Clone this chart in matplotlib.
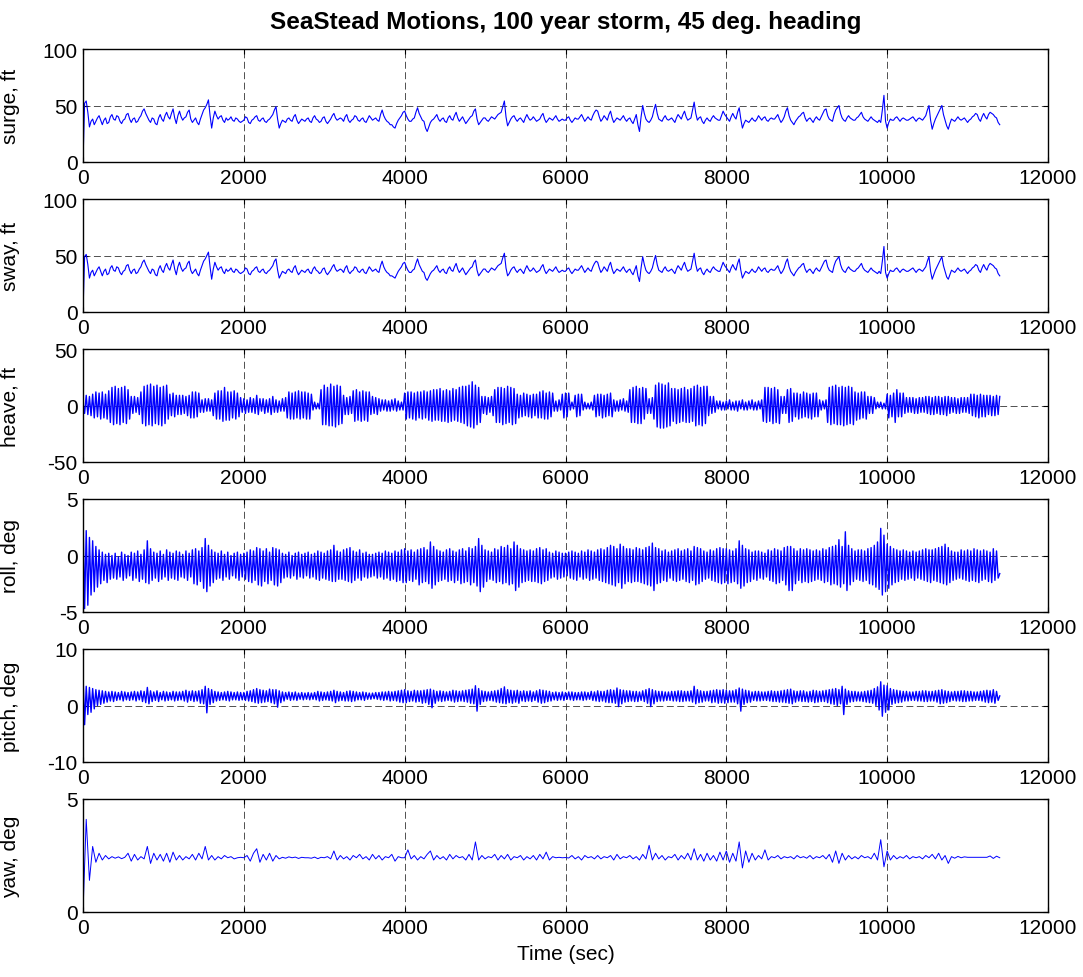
import numpy as np
import matplotlib
matplotlib.use("Agg")
import matplotlib.pyplot as plt

plt.rcParams['font.family'] = ['Liberation Sans', 'DejaVu Sans']
plt.rcParams['axes.unicode_minus'] = False
plt.rcParams['lines.scale_dashes'] = False

# readings every 20 s (surge, sway, heave, roll, pitch) and every 40 s (yaw)
STEP_FINE = 20
STEP_YAW = 40

surge = [
    0, 52, 54, 44, 31, 36, 38, 33, 36, 39, 41, 37, 33, 37, 39, 34, 35, 40, 42, 38,
    37, 41, 40, 36, 34, 37, 38, 42, 43, 38, 35, 38, 39, 35, 36, 39, 41, 45, 47, 43,
    40, 37, 35, 39, 38, 34, 33, 39, 42, 38, 36, 41, 44, 40, 38, 43, 47, 39, 34, 41,
    45, 40, 37, 39, 40, 44, 46, 38, 35, 37, 39, 35, 33, 38, 42, 46, 48, 51, 55, 41,
    30, 39, 45, 41, 38, 40, 41, 37, 35, 39, 37, 38, 40, 37, 36, 39, 38, 36, 35, 36,
    37, 40, 39, 35, 34, 37, 38, 40, 41, 37, 36, 38, 39, 36, 35, 37, 38, 40, 42, 46,
    49, 38, 30, 34, 37, 36, 35, 38, 39, 37, 36, 40, 42, 37, 34, 36, 38, 37, 36, 38,
    39, 36, 35, 39, 41, 38, 37, 35, 36, 39, 40, 36, 34, 36, 38, 41, 43, 39, 37, 38,
    39, 38, 36, 40, 42, 37, 35, 37, 38, 41, 40, 37, 36, 38, 39, 36, 35, 38, 41, 39,
    37, 38, 39, 37, 36, 42, 46, 41, 38, 36, 35, 33, 33, 31, 30, 34, 37, 39, 41, 44,
    45, 41, 38, 36, 36, 38, 39, 44, 48, 43, 40, 37, 36, 30, 27, 31, 35, 37, 38, 40,
    42, 38, 36, 38, 39, 36, 35, 39, 41, 38, 37, 41, 44, 39, 36, 38, 40, 37, 34, 36,
    38, 40, 41, 45, 47, 38, 33, 35, 37, 39, 39, 37, 36, 38, 40, 39, 38, 40, 42, 43,
    44, 49, 54, 40, 32, 35, 38, 40, 41, 38, 36, 38, 39, 37, 35, 39, 42, 39, 37, 38,
    40, 38, 36, 37, 38, 41, 43, 38, 35, 37, 39, 38, 37, 39, 41, 38, 36, 37, 38, 37,
    37, 39, 40, 37, 35, 37, 39, 38, 38, 40, 42, 39, 36, 38, 40, 38, 37, 41, 44, 46,
    45, 40, 36, 38, 41, 39, 37, 42, 45, 39, 35, 37, 39, 38, 37, 39, 41, 38, 36, 38,
    39, 36, 34, 38, 42, 33, 27, 40, 50, 43, 38, 36, 35, 37, 40, 46, 51, 43, 38, 37,
    36, 39, 41, 38, 37, 38, 39, 37, 35, 39, 42, 40, 38, 42, 45, 40, 37, 38, 39, 46,
    53, 43, 37, 39, 40, 36, 34, 37, 39, 37, 36, 39, 41, 39, 38, 37, 37, 41, 45, 42,
    40, 38, 36, 40, 43, 40, 38, 44, 48, 38, 30, 34, 37, 36, 35, 37, 39, 37, 36, 38,
    41, 39, 37, 39, 40, 37, 36, 38, 39, 38, 38, 40, 42, 38, 35, 37, 40, 45, 48, 41,
    37, 35, 33, 36, 38, 40, 41, 43, 44, 39, 36, 38, 39, 37, 35, 38, 40, 38, 37, 40,
    43, 46, 47, 41, 38, 37, 36, 42, 46, 48, 50, 43, 39, 37, 36, 39, 41, 39, 38, 37,
    37, 39, 40, 42, 44, 40, 38, 37, 36, 38, 40, 38, 37, 36, 35, 37, 35, 46, 59, 36,
    30, 35, 38, 37, 37, 39, 40, 38, 36, 38, 39, 38, 37, 37, 38, 39, 40, 38, 36, 38,
    39, 38, 37, 39, 41, 46, 50, 37, 29, 34, 38, 41, 44, 47, 50, 42, 37, 32, 29, 34,
    38, 37, 36, 38, 40, 38, 37, 38, 39, 37, 35, 37, 38, 40, 41, 43, 42, 38, 36, 40,
    43, 40, 38, 42, 44, 43, 42, 40, 39, 35, 33,
]

sway = [
    0, 49, 51, 42, 30, 35, 37, 32, 35, 38, 40, 36, 32, 36, 38, 33, 34, 39, 41, 37,
    36, 40, 39, 35, 33, 36, 37, 41, 42, 37, 34, 37, 38, 34, 35, 38, 40, 44, 46, 42,
    39, 36, 34, 38, 37, 33, 32, 38, 41, 37, 35, 40, 43, 39, 37, 42, 46, 38, 33, 40,
    44, 39, 36, 38, 39, 43, 45, 37, 34, 36, 38, 34, 32, 37, 41, 45, 47, 50, 53, 40,
    29, 38, 44, 40, 37, 39, 40, 36, 34, 38, 36, 37, 39, 36, 35, 38, 37, 35, 34, 35,
    36, 39, 38, 34, 33, 36, 37, 39, 40, 36, 35, 37, 38, 35, 34, 36, 37, 39, 41, 45,
    47, 37, 30, 33, 36, 35, 34, 37, 38, 36, 35, 39, 41, 36, 33, 35, 37, 36, 35, 37,
    38, 35, 34, 38, 40, 37, 36, 34, 35, 38, 39, 35, 33, 35, 37, 40, 42, 38, 36, 37,
    38, 37, 35, 39, 41, 36, 34, 36, 37, 40, 39, 36, 35, 37, 38, 35, 34, 37, 40, 38,
    36, 37, 38, 36, 35, 41, 45, 40, 37, 35, 34, 32, 32, 31, 30, 33, 36, 38, 40, 43,
    44, 40, 37, 35, 35, 37, 38, 43, 47, 42, 39, 36, 35, 30, 28, 31, 34, 36, 37, 39,
    41, 37, 35, 37, 38, 35, 34, 38, 40, 37, 36, 40, 43, 38, 35, 37, 39, 36, 33, 35,
    37, 39, 40, 44, 46, 37, 32, 34, 36, 38, 38, 36, 35, 37, 39, 38, 37, 39, 41, 42,
    43, 48, 52, 39, 32, 34, 37, 39, 40, 37, 35, 37, 38, 36, 34, 38, 41, 38, 36, 37,
    39, 37, 35, 36, 37, 40, 42, 37, 34, 36, 38, 37, 36, 38, 40, 37, 35, 36, 37, 36,
    36, 38, 39, 36, 34, 36, 38, 37, 37, 39, 41, 38, 35, 37, 39, 37, 36, 40, 43, 45,
    44, 39, 35, 37, 40, 38, 36, 41, 44, 38, 34, 36, 38, 37, 36, 38, 40, 37, 35, 37,
    38, 35, 33, 37, 41, 32, 27, 39, 49, 42, 37, 35, 34, 36, 39, 45, 50, 42, 37, 36,
    35, 38, 40, 37, 36, 37, 38, 36, 34, 38, 41, 39, 37, 41, 44, 39, 36, 37, 38, 45,
    52, 42, 36, 38, 39, 35, 33, 36, 38, 36, 35, 38, 40, 38, 37, 36, 36, 40, 44, 41,
    39, 37, 35, 39, 42, 39, 37, 43, 47, 37, 30, 33, 36, 35, 34, 36, 38, 36, 35, 37,
    40, 38, 36, 38, 39, 36, 35, 37, 38, 37, 37, 39, 41, 37, 34, 36, 39, 44, 47, 40,
    36, 34, 32, 35, 37, 39, 40, 42, 43, 38, 35, 37, 38, 36, 34, 37, 39, 37, 36, 39,
    42, 45, 46, 40, 37, 36, 35, 41, 45, 47, 49, 42, 38, 36, 35, 38, 40, 38, 37, 36,
    36, 38, 39, 41, 43, 39, 37, 36, 35, 37, 39, 37, 36, 35, 34, 36, 34, 45, 58, 35,
    30, 34, 37, 36, 36, 38, 39, 37, 35, 37, 38, 37, 36, 36, 37, 38, 39, 37, 35, 37,
    38, 37, 36, 38, 40, 45, 49, 36, 29, 33, 37, 40, 43, 46, 49, 41, 36, 31, 29, 33,
    37, 36, 35, 37, 39, 37, 36, 37, 38, 36, 34, 36, 37, 39, 40, 42, 41, 37, 35, 39,
    42, 39, 37, 41, 43, 42, 41, 39, 38, 34, 32,
]

heave = [
    2, -7, 9, -8, 8, -9, 10, -11, 12, -10, 11, -12, 12, -11, 10, -12, 13, -15, 16, -17,
    17, -16, 15, -17, 16, -15, 17, -16, 14, -12, 8, -7, 8, -6, 7, -8, 12, -16, 17, -18,
    18, -17, 19, -18, 17, -16, 18, -17, 16, -18, 17, -16, 18, -12, 10, -9, 11, -10, 9, -8,
    9, -8, 9, -7, 8, -9, 9, -11, 12, -11, 12, -10, 11, -6, 5, -6, 6, -5, 6, -5,
    5, -9, 11, -12, 13, -12, 13, -14, 16, -13, 12, -13, 12, -11, 13, -12, 11, -10, 7, -6,
    6, -7, 5, -6, 7, -6, 6, -7, 9, -8, 6, -5, 6, -7, 5, -6, 6, -8, 8, -6,
    5, -6, 4, -5, 6, -5, 7, -11, 12, -12, 11, -12, 12, -11, 13, -12, 12, -11, 12, -12,
    11, -12, 10, -4, 3, -3, 2, -3, 14, -17, 18, -17, 16, -18, 19, -18, 17, -19, 18, -17,
    17, -16, 9, -8, 7, -8, 8, -7, 13, -14, 14, -13, 12, -14, 13, -13, 12, -14, 12, -8,
    8, -7, 7, -8, 6, -5, 5, -4, 5, -5, 4, -5, 5, -4, 6, -5, 4, -4, 3, -4,
    11, -12, 12, -11, 12, -12, 11, -13, 12, -11, 12, -12, 13, -11, 12, -13, 13, -14, 14, -13,
    14, -13, 15, -14, 13, -14, 14, -15, 13, -14, 15, -13, 14, -14, 16, -15, 17, -16, 17, -18,
    18, -19, 21, -20, 18, -17, 16, -15, 8, -7, 8, -8, 7, -6, 8, -9, 14, -15, 16, -15,
    16, -17, 15, -16, 17, -15, 16, -17, 15, -16, 10, -11, 9, -10, 11, -9, 10, -10, 9, -11,
    10, -9, 10, -11, 12, -11, 13, -12, 11, -12, 12, -10, 11, -5, 4, -5, 5, -4, 10, -11,
    11, -10, 11, -4, 3, -3, 9, -10, 10, -9, 10, -4, 3, -3, 2, -3, 3, -4, 9, -10,
    10, -9, 10, -11, 9, -10, 10, -9, 11, -10, 5, -5, 4, -5, 5, -4, 6, -5, 4, -6,
    14, -15, 16, -15, 17, -16, 15, -16, 16, -12, 15, -7, 6, -7, 7, -12, 18, -19, 20, -20,
    19, -20, 18, -19, 20, -18, 15, -14, 15, -16, 14, -15, 15, -14, 16, -15, 14, -15, 15, -14,
    17, -18, 18, -17, 16, -18, 17, -16, 17, -9, 8, -7, 8, -6, 4, -3, 4, -4, 3, -4,
    4, -3, 5, -4, 3, -4, 4, -5, 4, -3, 5, -4, 3, -4, 4, -3, 5, -4, 3, -4,
    4, -3, 5, -14, 16, -15, 16, -14, 15, -16, 16, -15, 14, -16, 8, -7, 8, -7, 14, -15,
    15, -14, 11, -10, 11, -12, 10, -11, 12, -10, 11, -11, 10, -12, 11, -10, 11, -10, 5, -4,
    4, -3, 5, -15, 16, -17, 17, -16, 18, -17, 16, -17, 17, -18, 16, -17, 17, -16, 16, -17,
    12, -13, 11, -12, 12, -11, 12, -12, 8, -7, 8, -7, 7, -3, 3, -2, 3, -3, 2, -3,
    10, -11, 9, -10, 11, -15, 14, -10, 11, -10, 11, -7, 7, -6, 7, -6, 7, -7, 6, -7,
    7, -6, 7, -6, 8, -7, 8, -8, 7, -8, 8, -7, 8, -8, 7, -8, 8, -9, 8, -7,
    7, -6, 7, -7, 6, -7, 7, -6, 7, -6, 7, -7, 10, -9, 10, -10, 9, -11, 10, -10,
    9, -10, 9, -8, 9, -9, 8, -9, 9, -8, 8,
]

roll = [
    3.3, -4.7, 2.2, -4.4, 1.6, -3.5, 1.3, -3.2, 0.8, -2.8, 0.5, -2.5, 0.3, -2.2, 0.1, -2.4, 0.2, -2.1, 0.0, -2.0,
    0.2, -2.1, -0.1, -1.9, 0.3, -2.2, 0.1, -2.0, 0.0, -1.8, 0.3, -2.2, 0.2, -2.0, 0.4, -2.3, 0.1, -2.1, 0.5, -2.4,
    1.3, -2.5, 0.6, -2.2, 0.3, -2.0, 0.2, -2.3, 0.4, -2.1, 0.1, -1.9, 0.5, -2.2, 0.3, -2.0, 0.2, -2.1, 0.4, -2.2,
    0.3, -1.9, 0.1, -2.0, 0.4, -2.2, 0.2, -1.9, 0.5, -2.5, 0.6, -2.6, 0.4, -2.3, 0.7, -2.9, 1.5, -3.2, 0.9, -2.7,
    0.5, -2.4, 0.3, -2.1, 0.2, -2.0, 0.4, -2.2, 0.1, -1.9, 0.3, -2.1, 0.0, -1.8, 0.2, -2.0, 0.3, -2.2, 0.1, -1.9,
    0.2, -2.1, 0.3, -2.3, 0.5, -2.4, 0.4, -2.2, 0.7, -2.6, 0.6, -2.7, 0.4, -2.3, 0.6, -2.5, 0.3, -2.2, 0.7, -2.6,
    0.6, -2.7, 0.5, -2.4, 0.2, -2.0, 0.1, -1.9, 0.3, -2.0, 0.0, -1.8, 0.2, -2.1, 0.3, -1.9, 0.1, -2.0, 0.2, -1.8,
    0.3, -2.0, 0.1, -1.9, 0.2, -2.1, 0.4, -2.2, 0.3, -2.0, 0.2, -2.1, 0.4, -2.2, 0.5, -2.3, 0.9, -2.3, 0.4, -2.1,
    0.3, -2.1, 0.5, -2.2, 0.6, -2.3, 0.7, -2.4, 0.4, -2.2, 0.3, -2.0, 0.5, -2.2, 0.2, -1.9, 0.3, -2.0, 0.1, -1.9,
    0.1, -1.8, 0.2, -2.0, 0.3, -1.9, 0.2, -2.1, 0.4, -2.0, 0.3, -2.2, 0.2, -2.1, 0.4, -2.3, 0.3, -2.2, 0.5, -2.4,
    0.6, -2.4, 0.4, -2.2, 0.5, -2.3, 0.3, -2.1, 0.5, -2.6, 0.6, -2.4, 0.7, -2.3, 0.5, -2.5, 1.2, -2.9, 0.8, -2.6,
    0.5, -2.3, 0.4, -2.2, 0.3, -2.1, 0.5, -2.3, 0.6, -2.2, 0.4, -2.4, 0.3, -2.2, 0.5, -2.5, 0.6, -2.4, 0.4, -2.3,
    0.7, -2.6, 0.6, -2.4, 0.8, -2.7, 1.5, -3.2, 0.9, -2.8, 0.5, -2.3, 0.4, -2.1, 0.3, -2.2, 0.6, -2.4, 0.5, -2.3,
    0.8, -2.5, 0.7, -2.4, 0.9, -2.6, 0.6, -2.5, 1.2, -3.1, 0.9, -2.8, 0.6, -2.4, 0.5, -2.3, 0.4, -2.2, 0.5, -2.3,
    0.4, -2.3, 0.6, -2.4, 0.7, -2.5, 0.5, -2.3, 0.6, -2.2, 0.3, -2.0, 0.2, -1.9, 0.4, -2.1, 0.3, -2.0, 0.2, -1.9,
    0.2, -1.8, 0.3, -2.0, 0.4, -2.1, 0.3, -2.2, 0.2, -1.9, 0.4, -2.1, 0.3, -2.0, 0.5, -2.2, 0.4, -2.1, 0.3, -2.0,
    0.5, -2.2, 0.6, -2.3, 0.5, -2.4, 0.7, -2.5, 0.9, -2.6, 0.8, -2.7, 0.6, -2.4, 1.0, -2.9, 0.8, -2.5, 0.6, -2.3,
    0.6, -2.4, 0.5, -2.3, 0.7, -2.3, 0.6, -2.4, 0.5, -2.5, 0.7, -2.6, 0.8, -2.7, 1.1, -3.1, 0.7, -2.5, 0.6, -2.4,
    0.4, -2.2, 0.5, -2.3, 0.3, -2.0, 0.4, -2.2, 0.5, -2.3, 0.6, -2.2, 0.4, -2.1, 0.5, -2.3, 0.6, -2.4, 0.4, -2.2,
    0.8, -2.6, 0.7, -2.5, 0.6, -2.3, 0.4, -2.1, 0.3, -2.0, 0.5, -2.2, 0.4, -2.3, 0.6, -2.4, 0.7, -2.5, 0.6, -2.4,
    0.6, -2.5, 0.5, -2.4, 0.4, -2.3, 0.6, -2.5, 1.3, -2.9, 0.9, -2.7, 0.6, -2.4, 0.5, -2.3, 0.3, -2.1, 0.4, -2.2,
    0.4, -2.0, 0.3, -2.1, 0.2, -1.9, 0.5, -2.2, 0.4, -2.3, 0.6, -2.5, 0.5, -2.4, 0.4, -2.2, 0.7, -2.6, 0.8, -3.1,
    0.8, -3.1, 0.6, -2.5, 0.4, -2.2, 0.6, -2.4, 0.5, -2.3, 0.6, -2.4, 0.5, -2.3, 0.4, -2.2, 0.5, -2.1, 0.4, -2.2,
    0.6, -2.4, 0.5, -2.3, 0.7, -2.6, 0.8, -2.5, 0.9, -2.6, 1.4, -2.8, 0.8, -2.5, 2.1, -3.1, 0.9, -2.6, 0.6, -2.3,
    0.4, -2.1, 0.5, -2.2, 0.5, -2.3, 0.4, -2.2, 0.6, -2.5, 0.7, -2.6, 0.9, -2.8, 1.2, -3.0, 2.4, -3.5, 1.8, -3.2,
    1.0, -2.9, 0.8, -2.6, 0.6, -2.4, 0.5, -2.3, 0.4, -2.1, 0.5, -2.2, 0.4, -2.1, 0.3, -2.0, 0.4, -2.2, 0.3, -2.0,
    0.4, -2.1, 0.5, -2.2, 0.6, -2.3, 0.5, -2.4, 0.5, -2.2, 0.6, -2.3, 0.7, -2.4, 0.8, -2.5, 1.0, -2.6, 0.7, -2.4,
    0.4, -2.2, 0.3, -2.1, 0.3, -2.0, 0.5, -2.1, 0.4, -2.2, 0.5, -2.3, 0.4, -2.2, 0.6, -2.3, 0.5, -2.4, 0.4, -2.2,
    0.5, -2.1, 0.4, -2.3, 0.3, -2.4, 0.6, -2.2, 0.4, -2.0, -1.6,
]

pitch = [
    5.2, -3.4, 3.4, -1.6, 3.2, -1.2, 3.0, -0.6, 2.8, 0.0, 2.7, 0.2, 2.6, 0.4, 2.5, 0.6, 2.4, 0.8, 2.5, 0.7,
    2.4, 0.9, 2.3, 1.0, 2.5, 0.8, 2.4, 1.0, 2.3, 0.9, 2.4, 1.0, 2.5, 0.8, 2.4, 1.0, 2.6, 0.7, 2.5, 0.5,
    3.2, 0.3, 2.6, 0.7, 2.4, 0.9, 2.6, 0.7, 2.3, 1.0, 2.5, 0.8, 2.4, 0.9, 2.3, 1.0, 2.5, 0.8, 2.4, 0.9,
    2.4, 1.0, 2.5, 0.8, 2.7, 0.6, 2.5, 0.9, 2.6, 0.7, 2.5, 0.8, 2.6, 0.4, 2.8, 0.3, 3.4, -1.3, 3.0, 0.2,
    2.8, 0.5, 2.5, 0.8, 2.4, 0.9, 2.3, 1.0, 2.4, 0.9, 2.5, 0.8, 2.4, 1.0, 2.3, 1.0, 2.4, 0.9, 2.3, 1.0,
    2.3, 0.9, 2.5, 0.8, 2.6, 0.7, 2.8, 0.5, 3.0, 0.4, 2.8, 0.5, 2.7, 0.6, 2.6, 0.7, 2.9, 0.5, 2.8, 0.3,
    2.8, -0.3, 2.6, 0.5, 2.4, 0.8, 2.3, 1.1, 2.4, 0.9, 2.3, 1.0, 2.4, 0.9, 2.2, 1.1, 2.3, 1.0, 2.2, 1.1,
    2.3, 1.0, 2.2, 1.1, 2.3, 1.0, 2.5, 0.8, 2.4, 0.9, 2.3, 1.0, 2.4, 0.9, 2.5, 0.8, 2.7, 0.5, 2.5, 0.8,
    2.4, 0.9, 2.3, 0.8, 2.5, 0.8, 2.6, 0.7, 2.5, 0.8, 2.4, 1.0, 2.3, 1.0, 2.4, 0.9, 2.3, 1.1, 2.2, 1.1,
    2.2, 1.2, 2.3, 1.1, 2.3, 1.0, 2.4, 0.9, 2.4, 1.0, 2.5, 0.8, 2.4, 0.9, 2.5, 0.8, 2.6, 0.6, 2.7, 0.5,
    2.8, 0.5, 2.6, 0.7, 2.5, 0.8, 2.7, 0.6, 2.6, 0.7, 2.6, 0.4, 2.7, 0.5, 2.8, 0.2, 2.9, -0.4, 2.7, 0.4,
    2.5, 0.8, 2.6, 0.7, 2.5, 0.8, 2.4, 0.9, 2.5, 0.8, 2.7, 0.6, 2.6, 0.7, 2.5, 0.8, 2.6, 0.7, 2.7, 0.6,
    2.8, 0.4, 2.9, 0.3, 3.5, -1.0, 3.0, 0.2, 2.6, 0.7, 2.5, 0.8, 2.4, 0.9, 2.5, 0.8, 2.6, 0.6, 2.7, 0.5,
    3.0, 0.4, 3.3, 0.3, 2.8, 0.5, 2.7, 0.4, 2.6, 0.6, 2.7, 0.4, 2.5, 0.8, 2.6, 0.7, 2.5, 0.8, 2.6, 0.7,
    2.4, 0.9, 2.6, 0.6, 2.8, 0.4, 2.7, 0.5, 2.6, 0.7, 2.5, 0.8, 2.3, 1.0, 2.4, 0.9, 2.3, 1.0, 2.4, 0.9,
    2.3, 1.1, 2.4, 1.0, 2.4, 0.9, 2.3, 1.0, 2.3, 1.0, 2.4, 0.9, 2.4, 1.0, 2.3, 1.1, 2.5, 0.9, 2.4, 0.8,
    2.6, 0.7, 2.5, 0.8, 2.5, 0.6, 2.7, 0.5, 2.8, 0.5, 2.7, 0.4, 3.1, -0.2, 2.8, 0.3, 2.7, 0.6, 2.6, 0.7,
    2.6, 0.8, 2.5, 0.7, 2.5, 0.7, 2.4, 0.9, 2.6, 0.7, 2.8, 0.4, 3.0, -0.2, 2.8, 0.3, 2.6, 0.7, 2.5, 0.8,
    2.5, 0.8, 2.4, 0.9, 2.4, 0.9, 2.5, 0.8, 2.5, 0.8, 2.6, 0.7, 2.6, 0.7, 2.5, 0.8, 2.5, 0.8, 2.6, 0.6,
    3.4, 0.3, 2.8, 0.5, 2.6, 0.6, 2.5, 0.8, 2.5, 0.8, 2.6, 0.5, 2.7, 0.6, 2.8, 0.4, 2.7, 0.5, 2.8, 0.4,
    2.7, 0.5, 2.6, 0.6, 2.6, 0.6, 2.8, 0.3, 3.1, -1.0, 2.9, 0.2, 2.7, 0.5, 2.6, 0.6, 2.4, 0.9, 2.5, 0.8,
    2.5, 0.8, 2.4, 0.9, 2.4, 0.9, 2.5, 0.8, 2.6, 0.7, 2.5, 0.7, 2.5, 0.6, 2.6, 0.6, 2.7, 0.5, 2.8, 0.4,
    2.9, 0.3, 2.6, 0.6, 2.5, 0.8, 2.6, 0.7, 2.6, 0.7, 2.4, 0.6, 2.5, 0.7, 2.7, 0.5, 2.6, 0.6, 2.5, 0.7,
    2.6, 0.7, 2.7, 0.5, 2.8, 0.3, 2.9, 0.2, 3.0, 0.0, 2.8, 0.3, 3.4, -1.6, 2.9, 0.2, 2.6, 0.6, 2.5, 0.7,
    2.5, 0.8, 2.4, 0.8, 2.4, 0.7, 2.5, 0.6, 2.6, 0.5, 2.7, 0.4, 3.0, 0.0, 3.3, -0.8, 4.2, -1.9, 3.6, -1.2,
    3.5, -0.8, 3.0, 0.2, 2.8, 0.4, 2.7, 0.5, 2.6, 0.6, 2.5, 0.8, 2.5, 0.8, 2.4, 0.9, 2.4, 0.9, 2.5, 0.8,
    2.5, 0.8, 2.6, 0.7, 2.6, 0.7, 2.5, 0.8, 2.5, 0.8, 2.6, 0.6, 2.7, 0.3, 2.8, 0.4, 2.6, 0.5, 2.5, 0.7,
    2.4, 0.9, 2.5, 0.8, 2.5, 0.8, 2.6, 0.7, 2.6, 0.7, 2.5, 0.8, 2.5, 0.8, 2.4, 0.9, 2.4, 0.9, 2.5, 0.8,
    2.6, 0.6, 2.7, 0.5, 2.6, 0.6, 2.8, 0.4, 2.5, 0.9, 1.7,
]

yaw = [
    0.0, 4.1, 1.4, 2.9, 2.2, 2.6, 2.3, 2.5, 2.35, 2.45,
    2.38, 2.44, 2.36, 2.42, 2.6, 2.25, 2.55, 2.3, 2.45, 2.35,
    2.9, 2.15, 2.6, 2.3, 2.55, 2.25, 2.6, 2.2, 2.65, 2.3,
    2.5, 2.3, 2.45, 2.35, 2.55, 2.3, 2.6, 2.35, 2.9, 2.3,
    2.5, 2.3, 2.45, 2.35, 2.5, 2.4, 2.45, 2.35, 2.4, 2.42,
    2.4, 2.5, 2.25, 2.6, 2.8, 2.2, 2.55, 2.3, 2.6, 2.25,
    2.5, 2.35, 2.42, 2.38, 2.44, 2.4, 2.43, 2.37, 2.42, 2.4,
    2.4, 2.38, 2.43, 2.36, 2.42, 2.4, 2.45, 2.35, 2.7, 2.3,
    2.5, 2.35, 2.45, 2.3, 2.5, 2.4, 2.55, 2.35, 2.45, 2.3,
    2.55, 2.35, 2.5, 2.3, 2.45, 2.4, 2.55, 2.25, 2.45, 2.4,
    2.4, 2.75, 2.35, 2.5, 2.3, 2.45, 2.35, 2.55, 2.7, 2.3,
    2.5, 2.35, 2.45, 2.3, 2.55, 2.35, 2.5, 2.4, 2.45, 2.3,
    2.55, 2.3, 3.1, 2.3, 2.5, 2.35, 2.45, 2.4, 2.55, 2.3,
    2.5, 2.35, 2.55, 2.3, 2.45, 2.4, 2.5, 2.3, 2.45, 2.35,
    2.5, 2.3, 2.55, 2.35, 2.65, 2.3, 2.45, 2.4, 2.42, 2.4,
    2.41, 2.39, 2.5, 2.35, 2.45, 2.3, 2.5, 2.4, 2.45, 2.35,
    2.5, 2.35, 2.45, 2.4, 2.5, 2.3, 2.55, 2.35, 2.45, 2.4,
    2.5, 2.35, 2.45, 2.3, 2.55, 2.35, 2.95, 2.3, 2.6, 2.35,
    2.5, 2.3, 2.45, 2.4, 2.55, 2.3, 2.5, 2.35, 2.6, 2.3,
    2.8, 2.3, 2.55, 2.25, 2.6, 2.3, 2.5, 2.25, 2.65, 2.3,
    2.7, 2.2, 2.6, 2.25, 3.1, 1.95, 2.7, 2.2, 2.6, 2.3,
    2.5, 2.35, 2.75, 2.3, 2.45, 2.4, 2.5, 2.35, 2.45, 2.4,
    2.45, 2.35, 2.5, 2.4, 2.45, 2.38, 2.5, 2.35, 2.45, 2.4,
    2.5, 2.35, 2.55, 2.2, 2.7, 2.15, 2.6, 2.3, 2.5, 2.35,
    2.45, 2.35, 2.5, 2.4, 2.45, 2.35, 2.6, 2.3, 3.2, 2.0,
    2.7, 2.3, 2.5, 2.35, 2.45, 2.38, 2.5, 2.35, 2.45, 2.4,
    2.45, 2.35, 2.5, 2.4, 2.55, 2.35, 2.6, 2.3, 2.5, 2.15,
    2.45, 2.38, 2.46, 2.4, 2.44, 2.42, 2.42, 2.42, 2.42, 2.42,
    2.42, 2.42, 2.48, 2.37, 2.47, 2.4,
]

series = [surge, sway, heave, roll, pitch, yaw]
steps = [STEP_FINE, STEP_FINE, STEP_FINE, STEP_FINE, STEP_FINE, STEP_YAW]
widths = [0.8, 0.8, 1.0, 1.0, 1.0, 0.7]
ylabels = ['surge, ft', 'sway, ft', 'heave, ft', 'roll, deg', 'pitch, deg', 'yaw, deg']
ylims = [(0, 100), (0, 100), (-50, 50), (-5, 5), (-10, 10), (0, 5)]
yticks = [[0, 50, 100], [0, 50, 100], [-50, 0, 50], [-5, 0, 5], [-10, 0, 10], [0, 5]]
xticks = [0, 2000, 4000, 6000, 8000, 10000, 12000]
title = 'SeaStead Motions, 100 year storm, 45 deg. heading'
xlabel = 'Time (sec)'

W, H = 1083, 978
fig = plt.figure(figsize=(W / 100, H / 100), dpi=100)

left_px, right_px = 83, 1048
for i, (vals, step, lw, lab, yl, yt) in enumerate(zip(series, steps, widths, ylabels, ylims, yticks)):
    top_px = 50 + 150 * i
    bot_px = 163 + 150 * i
    ax = fig.add_axes([left_px / W, 1 - bot_px / H, (right_px - left_px) / W, (bot_px - top_px) / H])
    t = step * np.arange(len(vals))
    ax.plot(t, vals, color='#0000ff', lw=lw)
    ax.set_xlim(0, 12000)
    ax.set_ylim(*yl)
    ax.set_xticks(xticks)
    ax.set_yticks(yt)
    ax.grid(True, color='#333333', linestyle=(0, (5, 2.5)), linewidth=0.6)
    ax.set_axisbelow(True)
    ax.tick_params(direction='in', length=3.5, width=0.8, top=True, right=True,
                   labelsize=15, pad=4, colors='black')
    for sp in ax.spines.values():
        sp.set_linewidth(1.0)
        sp.set_color('black')
    ax.set_ylabel(lab, fontsize=15)
    ax.yaxis.set_label_coords(-63 / (right_px - left_px), 0.5)

fig.text((left_px + right_px) / 2 / W, 1 - 22 / H, title, ha='center', va='center',
         fontsize=17.5, fontweight='bold')
fig.text((left_px + right_px) / 2 / W, 1 - 955 / H, xlabel, ha='center', va='center',
         fontsize=15)

fig.savefig('out.png', dpi=100)
